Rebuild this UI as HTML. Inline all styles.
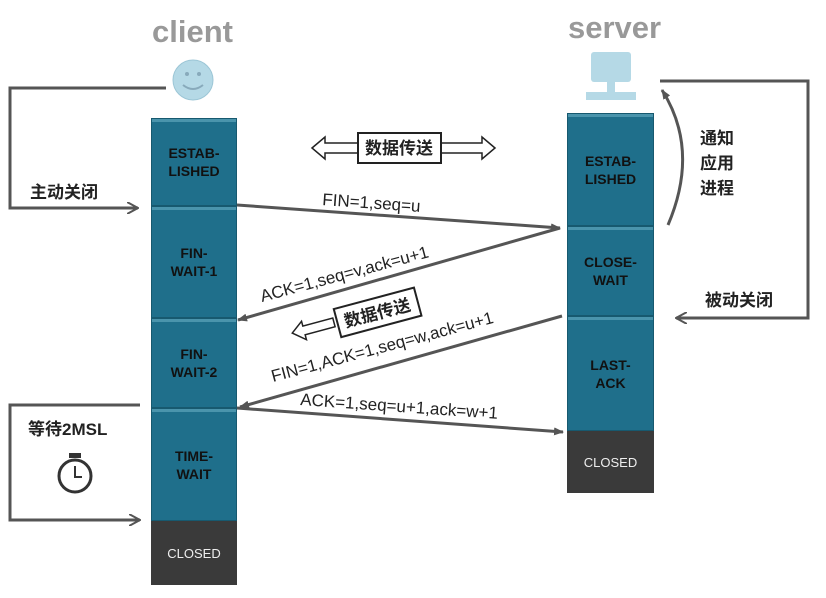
<!DOCTYPE html><html><head><meta charset="utf-8"><style>
body{margin:0;background:#fff;width:826px;height:598px;overflow:hidden;font-family:"Liberation Sans","Noto Sans CJK SC",sans-serif}
.b{position:absolute;background:#1f6f8b;border:1px solid #17596f;box-sizing:border-box;box-shadow:inset 0 3px 0 #4a94ac;display:flex;align-items:center;justify-content:center;text-align:center;font-weight:bold;font-size:14px;line-height:18px;color:#111}
.c{position:absolute;background:#3a3a3a;color:#eee;font-size:13px;display:flex;align-items:center;justify-content:center}
.t{position:absolute;font-weight:bold;font-size:17px;color:#222}
</style></head><body>
<div style="position:absolute;left:152px;top:14px;font-size:31px;font-weight:bold;color:#999">client</div>
<div style="position:absolute;left:568px;top:10px;font-size:31px;font-weight:bold;color:#999">server</div>
<div class="b" style="left:151px;top:118px;width:86px;height:88px">ESTAB-<br>LISHED</div>
<div class="b" style="left:151px;top:206px;width:86px;height:112px">FIN-<br>WAIT-1</div>
<div class="b" style="left:151px;top:318px;width:86px;height:90px">FIN-<br>WAIT-2</div>
<div class="b" style="left:151px;top:408px;width:86px;height:113px">TIME-<br>WAIT</div>
<div class="c" style="left:151px;top:521px;width:86px;height:64px">CLOSED</div>
<div class="b" style="left:567px;top:113px;width:87px;height:113px">ESTAB-<br>LISHED</div>
<div class="b" style="left:567px;top:226px;width:87px;height:90px">CLOSE-<br>WAIT</div>
<div class="b" style="left:567px;top:316px;width:87px;height:115px">LAST-<br>ACK</div>
<div class="c" style="left:567px;top:431px;width:87px;height:62px">CLOSED</div>
<svg width="826" height="598" style="position:absolute;left:0;top:0">
<defs><marker id="a" markerWidth="10" markerHeight="8" refX="9" refY="4" orient="auto" markerUnits="userSpaceOnUse"><path d="M0,0L10,4L0,8Z" fill="#555"/></marker>
<marker id="o" markerWidth="12" markerHeight="12" refX="11" refY="6" orient="auto" markerUnits="userSpaceOnUse"><path d="M0,0L11,6L0,12" fill="none" stroke="#555" stroke-width="2"/></marker></defs>
<circle cx="193" cy="80" r="20" fill="#b5d9e6" stroke="#9cc6d6"/><circle cx="187" cy="74" r="2" fill="#8ab"/><circle cx="199" cy="74" r="2" fill="#8ab"/><path d="M183,85q10,8 20,0" fill="none" stroke="#8ab" stroke-width="2"/>
<rect x="591" y="52" width="40" height="30" rx="3" fill="#b5d9e6"/><rect x="607" y="82" width="8" height="12" fill="#b5d9e6"/><rect x="586" y="92" width="50" height="8" fill="#b5d9e6"/>
<g stroke="#555" stroke-width="3" fill="none">
<polyline points="166,88 10,88 10,208 138,208" marker-end="url(#o)"/>
<polyline points="140,405 10,405 10,520 140,520" marker-end="url(#o)"/>
<polyline points="660,81 808,81 808,318 676,318" marker-end="url(#o)"/>
<path d="M668,225 Q700,150 662,90" marker-end="url(#a)"/>
<line x1="237" y1="205" x2="560" y2="228" marker-end="url(#a)"/>
<line x1="560" y1="228" x2="238" y2="320" marker-end="url(#a)"/>
<line x1="562" y1="316" x2="240" y2="407" marker-end="url(#a)"/>
<line x1="237" y1="408" x2="563" y2="432" marker-end="url(#a)"/>
</g>
<g stroke="#222" stroke-width="1.5" fill="#fff">
<path d="M312,148 L325,137 V143 H358 V153 H325 V159Z"/><path d="M495,148 L482,137 V143 H440 V153 H482 V159Z"/>
<path d="M292,331 L304,322 V327 H335 V336 H304 V341Z" transform="rotate(-15 300 331)"/>
</g>
<rect x="358" y="133" width="83" height="30" fill="#fff" stroke="#222" stroke-width="2"/>
<g transform="rotate(-15 377 312)"><rect x="336" y="298" width="83" height="29" fill="#fff" stroke="#222" stroke-width="2"/><text x="377" y="319" text-anchor="middle" font-size="17" font-weight="bold" fill="#222">数据传送</text></g>
<text x="399" y="154" text-anchor="middle" font-size="17" font-weight="bold" fill="#222">数据传送</text>
<g font-size="17" fill="#222">
<text x="322" y="205" transform="rotate(4 322 205)">FIN=1,seq=u</text>
<text x="262" y="302" transform="rotate(-15 262 302)">ACK=1,seq=v,ack=u+1</text>
<text x="273" y="382" transform="rotate(-15 273 382)">FIN=1,ACK=1,seq=w,ack=u+1</text>
<text x="300" y="405" transform="rotate(4 300 405)">ACK=1,seq=u+1,ack=w+1</text>
</g>
<circle cx="75" cy="476" r="16" fill="none" stroke="#333" stroke-width="3"/><rect x="69" y="453" width="12" height="5" fill="#333"/><path d="M75,466V477H82" stroke="#333" stroke-width="2" fill="none"/>
</svg>
<div class="t" style="left:30px;top:178px">主动关闭</div>
<div class="t" style="left:28px;top:415px">等待2MSL</div>
<div class="t" style="left:700px;top:126px;line-height:25px">通知<br>应用<br>进程</div>
<div class="t" style="left:705px;top:286px">被动关闭</div>
</body></html>
